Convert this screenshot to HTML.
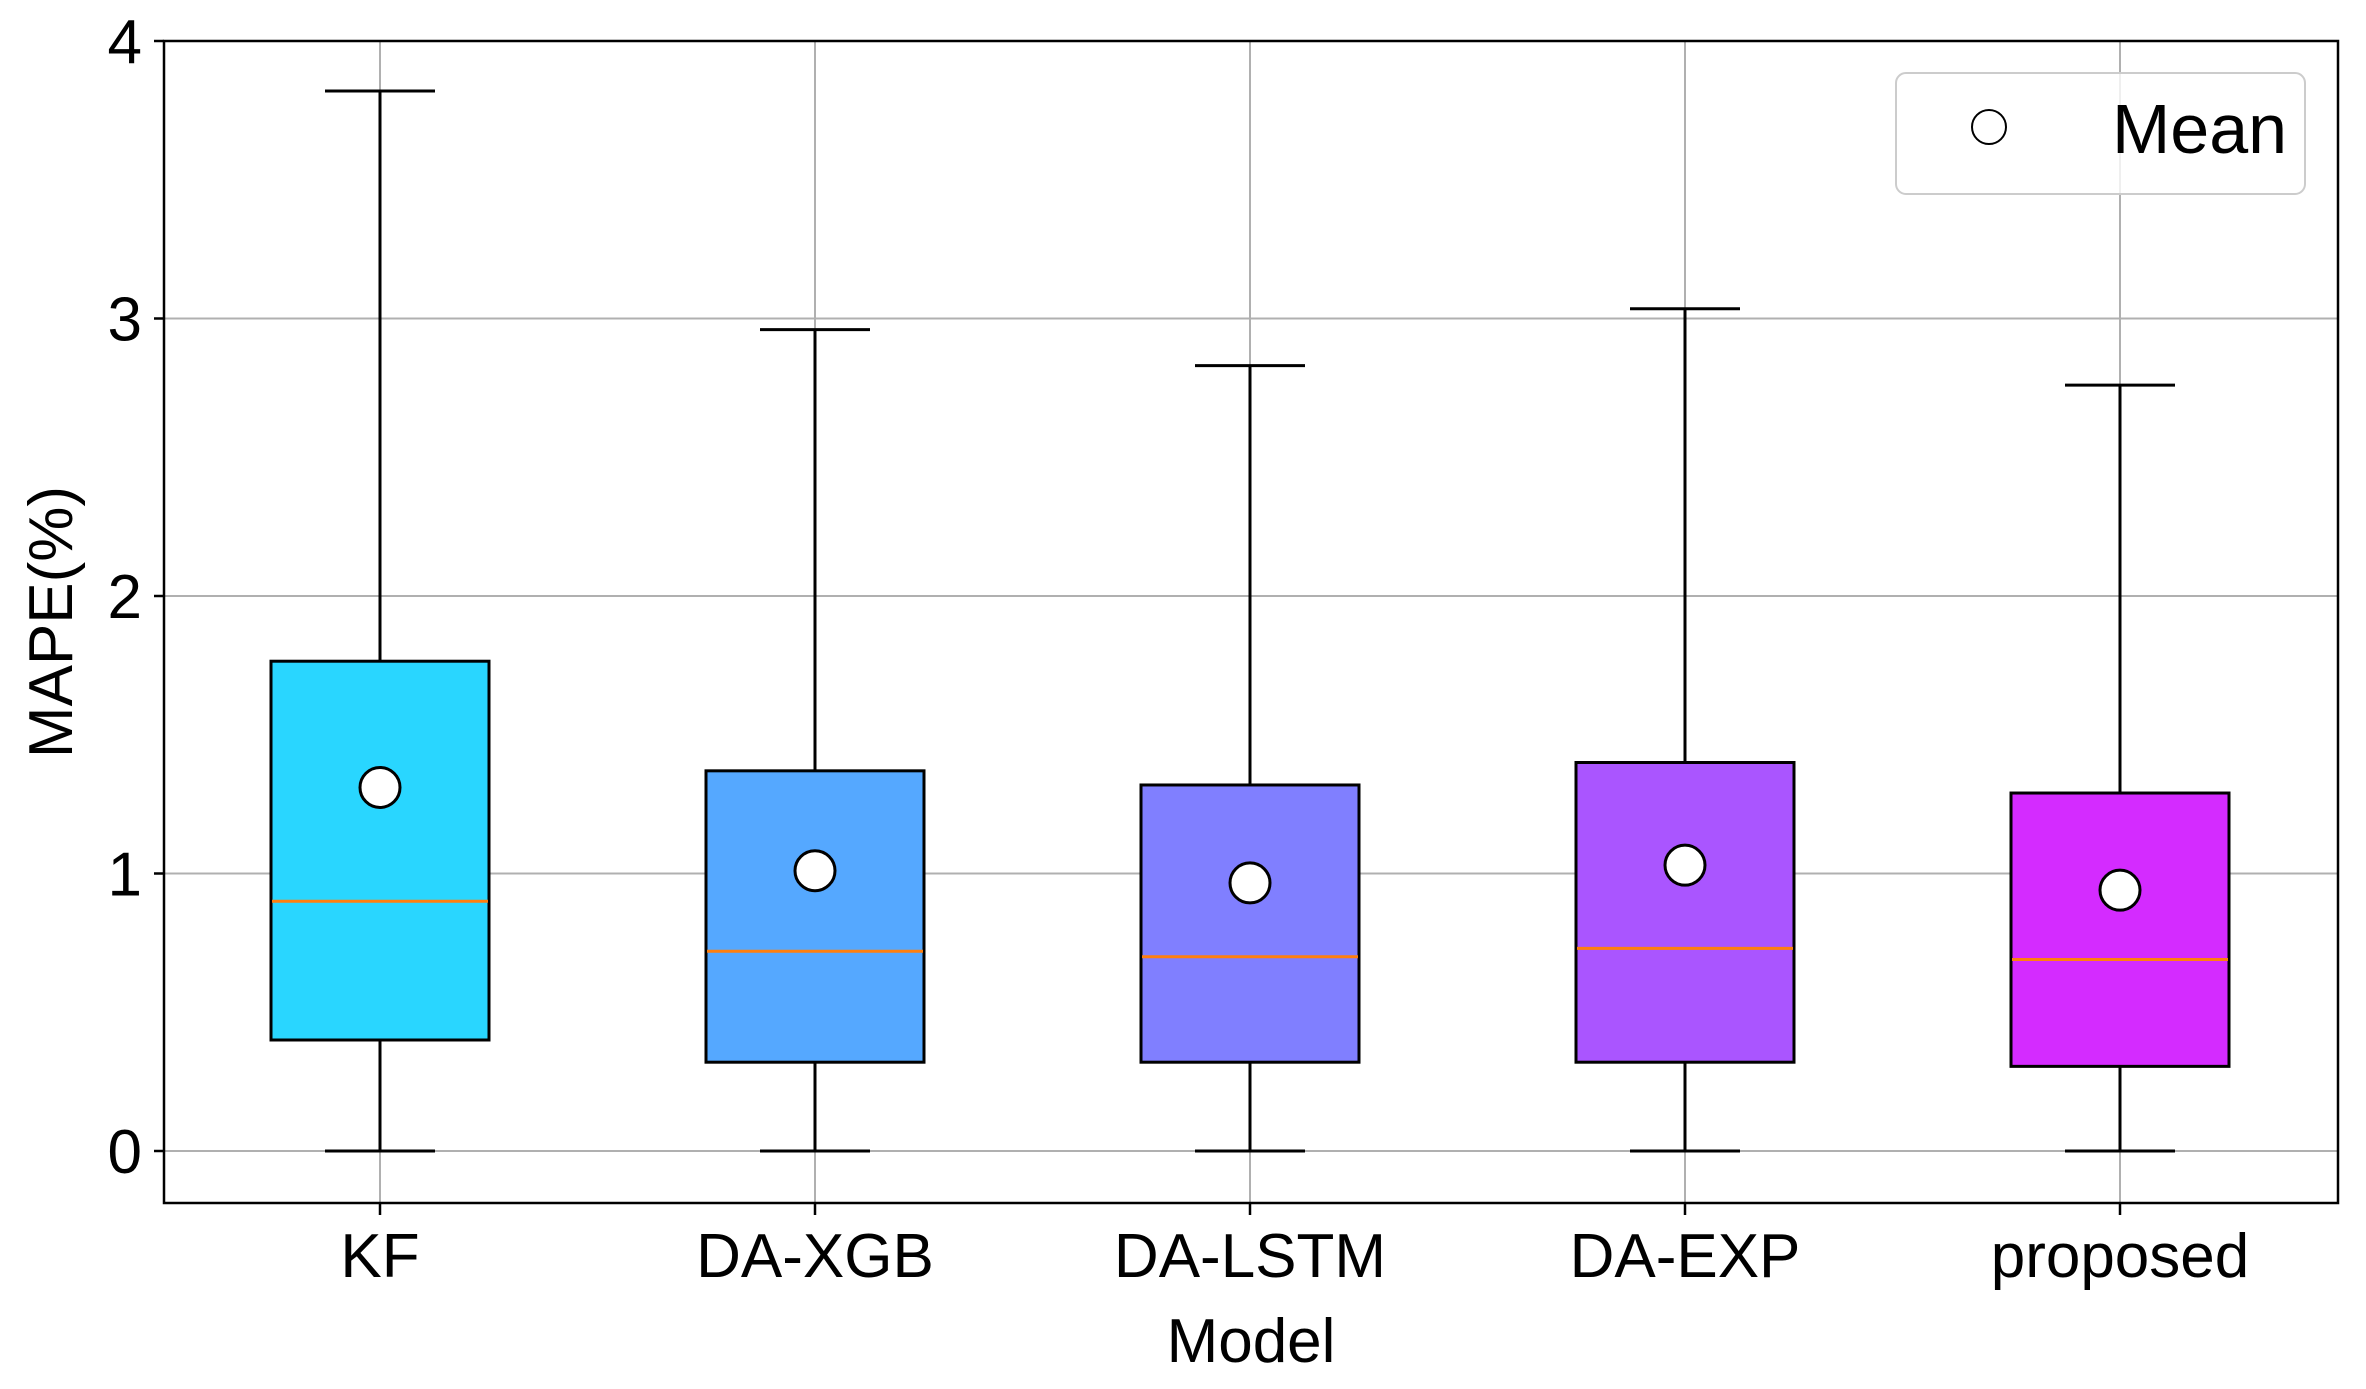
<!DOCTYPE html>
<html><head><meta charset="utf-8"><style>
html,body{margin:0;padding:0;background:#fff;}
svg{display:block;font-family:"Liberation Sans",sans-serif;}
</style></head><body>
<svg id="chart" width="2366" height="1389" viewBox="0 0 2366 1389" xmlns="http://www.w3.org/2000/svg">
<g id="grid"></g>
<g id="boxes"></g>
<rect x="164" y="41" width="2174" height="1162" fill="none" stroke="#000" stroke-width="2.5"/>
<g id="axes"></g>
<text transform="translate(72,622) rotate(-90)" text-anchor="middle" font-size="62" fill="#000">MAPE(%)</text>
<text x="1251" y="1362" text-anchor="middle" font-size="62" fill="#000">Model</text>
<g>
<rect x="1896" y="73" width="409" height="121" rx="10" fill="#fff" fill-opacity="0.8" stroke="#ccc" stroke-width="2"/>
<circle cx="1989" cy="127" r="17" fill="#fff" stroke="#000" stroke-width="2"/>
<text x="2112" y="153" font-size="70" fill="#000">Mean</text>
</g>
</svg>
<script>
const categories = ["KF","DA-XGB","DA-LSTM","DA-EXP","proposed"];
const whiskerLow = [0,0,0,0,0];
const q1 = [0.40,0.32,0.32,0.32,0.305];
const median = [0.90,0.72,0.70,0.73,0.69];
const q3 = [1.765,1.37,1.319,1.40,1.29];
const whiskerHigh = [3.82,2.96,2.83,3.035,2.76];
const means = [1.31,1.01,0.966,1.03,0.94];
const colors = ["#29d6ff","#55a8ff","#807fff","#aa55ff","#d42bff"];
const yTicks = [0,1,2,3,4];

const NS="http://www.w3.org/2000/svg";
const L=164,R=2338,T=41,B=1203;
const y = v => 1151 - v*277.5;
const x = i => 380 + i*435;
function mk(tag,attrs,parent){const e=document.createElementNS(NS,tag);for(const k in attrs)e.setAttribute(k,attrs[k]);parent.appendChild(e);return e;}
const grid=document.getElementById('grid'),boxes=document.getElementById('boxes'),axes=document.getElementById('axes');

yTicks.forEach(t=>{
  const g=mk('line',{x1:L,x2:R,y1:y(t),y2:y(t),stroke:'#b0b0b0','stroke-width':2},grid);
  
  
  const tk=mk('line',{x1:L-10,x2:L,y1:y(t),y2:y(t),stroke:'#000','stroke-width':2.5},axes);
  
  
  const tx=mk('text',{x:L-22,y:y(t)+22,'text-anchor':'end','font-size':62,fill:'#000'},axes);
  
  
  tx.textContent=t;
});
categories.forEach((c,i)=>{
  const cx=x(i);
  const g=mk('line',{x1:cx,x2:cx,y1:T,y2:B,stroke:'#b0b0b0','stroke-width':2},grid);
  
  
  const tk=mk('line',{x1:cx,x2:cx,y1:B,y2:B+12,stroke:'#000','stroke-width':2.5},axes);
  
  
  const tx=mk('text',{x:cx,y:1277,'text-anchor':'middle','font-size':62,fill:'#000'},axes);
  
  
  tx.textContent=c;

  const grp=mk('g',{},boxes);
  
  
  const st={stroke:'#000','stroke-width':3};
  const w1=mk('line',Object.assign({x1:cx,x2:cx,y1:y(q3[i]),y2:y(whiskerHigh[i])},st),grp);
  
  
  const w2=mk('line',Object.assign({x1:cx,x2:cx,y1:y(q1[i]),y2:y(whiskerLow[i])},st),grp);
  
  
  const c1=mk('line',Object.assign({x1:cx-55,x2:cx+55,y1:y(whiskerHigh[i]),y2:y(whiskerHigh[i])},st),grp);
  
  
  const c2=mk('line',Object.assign({x1:cx-55,x2:cx+55,y1:y(whiskerLow[i]),y2:y(whiskerLow[i])},st),grp);
  
  
  const r=mk('rect',{x:cx-109,y:y(q3[i]),width:218,height:y(q1[i])-y(q3[i]),fill:colors[i],stroke:'#000','stroke-width':3},grp);
  
  
  const m=mk('line',{x1:cx-108,x2:cx+108,y1:y(median[i]),y2:y(median[i]),stroke:'#ff7f0e','stroke-width':3},grp);
  
  
  const mc=mk('circle',{cx:cx,cy:y(means[i]),r:20,fill:'#fff',stroke:'#000','stroke-width':3},grp);
  
  
});
</script>
</body></html>
